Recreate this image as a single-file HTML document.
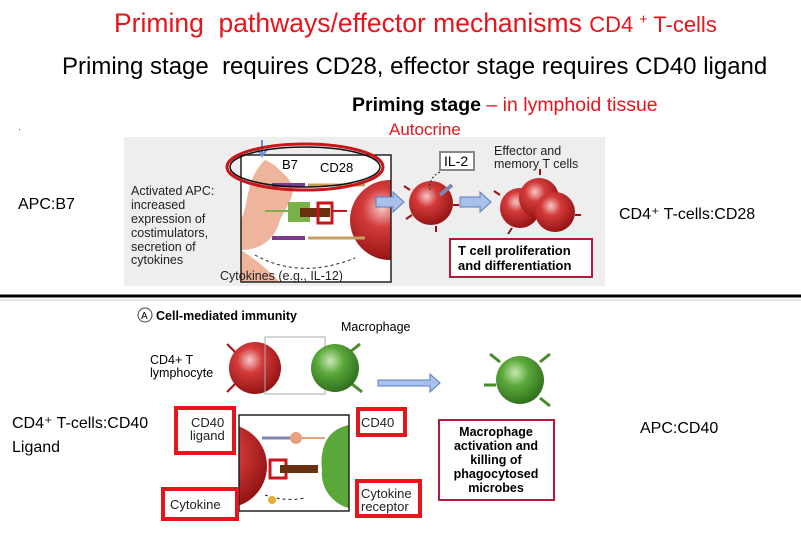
<!DOCTYPE html>
<html><head><style>
body{margin:0;width:801px;height:533px;background:#fff;position:relative;overflow:hidden;font-family:"Liberation Sans",sans-serif}
.t{position:absolute;white-space:nowrap}
</style></head><body>
<div class="t" style="left:114px;top:8px;font-size:26.5px;color:#e8141b">Priming&nbsp; pathways/effector mechanisms <span style="font-size:22px">CD4 <sup style="font-size:14px">+</sup> T-cells</span></div>
<div class="t" style="left:62px;top:53px;font-size:24px;color:#000">Priming stage&nbsp; requires CD28, effector stage requires CD40 ligand</div>
<div class="t" style="left:352px;top:94px;font-size:19.5px"><b>Priming stage</b> <span style="color:#e8141b">– in lymphoid tissue</span></div>
<div class="t" style="left:18px;top:122px;font-size:10px;color:#e8141b">.</div>
<div class="t" style="left:389px;top:120px;font-size:17px;color:#e8141b">Autocrine</div>
<div class="t" style="left:18px;top:196px;font-size:16px">APC:B7</div>
<div class="t" style="left:619px;top:204px;font-size:16px">CD4⁺ T-cells:CD28</div>
<div class="t" style="left:12px;top:412px;font-size:16px;line-height:24px">CD4⁺ T-cells:CD40<br>Ligand</div>
<div class="t" style="left:640px;top:420px;font-size:16px">APC:CD40</div>
<svg width="801" height="533" style="position:absolute;left:0;top:0" font-family="Liberation Sans,sans-serif">
<defs>
<radialGradient id="r" cx="0.4" cy="0.35" r="0.7"><stop offset="0" stop-color="#f6c7c7"/><stop offset="0.35" stop-color="#d43a3a"/><stop offset="1" stop-color="#8e1010"/></radialGradient>
<radialGradient id="g" cx="0.4" cy="0.35" r="0.7"><stop offset="0" stop-color="#c9e8b4"/><stop offset="0.4" stop-color="#5aa83a"/><stop offset="1" stop-color="#2c6a1c"/></radialGradient>
<clipPath id="c1"><rect x="241" y="155" width="150" height="127"/></clipPath>
<clipPath id="c2"><rect x="239" y="415" width="110" height="96"/></clipPath>
</defs>
<rect x="124" y="137" width="481" height="149" fill="#eeeeee"/>
<rect x="241" y="155" width="150" height="127" fill="#fff"/>
<g clip-path="url(#c1)">
<path d="M265 160 C245 180 250 200 241 220 L241 250 C260 250 275 240 280 220 C290 200 300 190 285 175 C275 165 270 162 265 160Z" fill="#eeb59c"/>
<path d="M241 250 Q260 262 280 282 L241 282Z" fill="#eeb59c"/>
<circle cx="390" cy="220" r="40" fill="url(#r)"/>
</g>
<rect x="241" y="155" width="150" height="127" fill="none" stroke="#222" stroke-width="1.5"/>
<path d="M262 140 L262 155 M256 148 L262 156 L268 148" stroke="#6b8fd0" stroke-width="2" fill="none"/>
<line x1="272" y1="185" x2="305" y2="185" stroke="#7a3c8a" stroke-width="4"/>
<line x1="308" y1="185" x2="365" y2="185" stroke="#c2a060" stroke-width="3"/>
<line x1="272" y1="238" x2="305" y2="238" stroke="#7a3c8a" stroke-width="4"/>
<line x1="308" y1="238" x2="365" y2="238" stroke="#c2a060" stroke-width="3"/>
<rect x="288" y="202" width="22" height="20" fill="#7ab24a"/>
<rect x="300" y="208" width="30" height="9" fill="#6a3010"/>
<rect x="318" y="203" width="14" height="20" fill="none" stroke="#c8161c" stroke-width="3"/>
<line x1="265" y1="211" x2="288" y2="211" stroke="#7ab24a" stroke-width="2"/>
<line x1="332" y1="211" x2="347" y2="211" stroke="#c8161c" stroke-width="2"/>
<path d="M255 255 Q300 280 355 258" stroke="#222" stroke-dasharray="3 3" fill="none"/>
<ellipse cx="305" cy="167" rx="78" ry="23" fill="none" stroke="#c8161c" stroke-width="3"/>
<ellipse cx="305" cy="167" rx="75" ry="20" fill="none" stroke="#111" stroke-width="1.5"/>
<text x="282" y="169" font-size="13">B7</text><text x="320" y="172" font-size="13">CD28</text>
<g font-size="12.5" fill="#222"><text x="131" y="195">Activated APC:</text><text x="131" y="209">increased</text><text x="131" y="223">expression of</text><text x="131" y="237">costimulators,</text><text x="131" y="251">secretion of</text><text x="131" y="264">cytokines</text>
<text x="220" y="280">Cytokines (e.g., IL-12)</text>
<text x="494" y="155">Effector and</text><text x="494" y="168">memory T cells</text></g>
<path d="M376 197 L393 197 L393 192 L404 202 L393 212 L393 207 L376 207Z" fill="#a9c0ea" stroke="#5a7cc0"/>
<circle cx="431" cy="203" r="22" fill="url(#r)"/>
<g stroke="#a01010" stroke-width="2" fill="none"><path d="M410 190 l-6 -4 M412 215 l-6 4 M453 205 l6 0 M436 226 l0 6 M500 195 l-6 -4 M575 215 l6 0 M512 228 l-4 6 M540 175 l0 -6"/></g>
<line x1="440" y1="195" x2="452" y2="185" stroke="#8088b0" stroke-width="4"/>
<path d="M460 197 L480 197 L480 192 L491 202 L480 212 L480 207 L460 207Z" fill="#a9c0ea" stroke="#5a7cc0"/>
<rect x="440" y="152" width="34" height="18" fill="#fff" stroke="#888" stroke-width="2"/><text x="444" y="166" font-size="14">IL-2</text>
<path d="M440 172 Q428 178 430 190" stroke="#222" stroke-dasharray="2 2" fill="none"/>
<circle cx="520" cy="208" r="20" fill="url(#r)"/><circle cx="539" cy="198" r="20" fill="url(#r)"/><circle cx="555" cy="212" r="20" fill="url(#r)"/>
<rect x="450" y="239" width="142" height="38" fill="#fff" stroke="#b8163a" stroke-width="2"/>
<text x="458" y="255" font-size="13" font-weight="bold">T cell proliferation</text><text x="458" y="270" font-size="13" font-weight="bold">and differentiation</text>
<line x1="0" y1="296" x2="801" y2="296" stroke="#000" stroke-width="3"/>
<line x1="0" y1="300" x2="801" y2="300" stroke="#ccc" stroke-width="1"/>
<circle cx="145" cy="315" r="7" fill="none" stroke="#444"/><text x="141" y="319" font-size="10">A</text>
<text x="156" y="320" font-size="12.5" font-weight="bold">Cell-mediated immunity</text>
<text x="341" y="331" font-size="12.5">Macrophage</text>
<text x="150" y="364" font-size="12.5">CD4+ T</text><text x="150" y="377" font-size="12.5">lymphocyte</text>
<g stroke="#a01010" stroke-width="2" fill="none"><path d="M235 352 l-8 -8 M235 384 l-8 8"/></g>
<g stroke="#4a8a2a" stroke-width="3" fill="none"><path d="M350 352 l10 -8 M352 384 l10 8 M500 362 l-10 -8 M540 362 l10 -8 M540 398 l10 8 M496 385 l-12 0"/></g>
<circle cx="255" cy="368" r="26" fill="url(#r)"/>
<rect x="265" y="337" width="60" height="57" fill="none" stroke="#aaa"/>
<circle cx="335" cy="368" r="24" fill="url(#g)"/>
<path d="M378 380 L430 380 L430 374 L440 383 L430 392 L430 386 L378 386Z" fill="#a9c0ea" stroke="#5a7cc0"/>
<circle cx="520" cy="380" r="24" fill="url(#g)"/>
<rect x="239" y="415" width="110" height="96" fill="#fff"/>
<g clip-path="url(#c2)">
<circle cx="225" cy="466" r="42" fill="url(#r)"/>
<path d="M349 425 C325 430 320 450 322 470 C320 490 335 505 349 508Z" fill="#5aa83a"/>
</g>
<rect x="239" y="415" width="110" height="96" fill="none" stroke="#222" stroke-width="1.5"/>
<line x1="262" y1="438" x2="295" y2="438" stroke="#7d85b0" stroke-width="3"/>
<circle cx="296" cy="438" r="6" fill="#e8a080"/><line x1="302" y1="438" x2="325" y2="438" stroke="#e8a080" stroke-width="2"/>
<rect x="270" y="460" width="16" height="18" fill="none" stroke="#c8161c" stroke-width="3"/>
<rect x="280" y="465" width="38" height="8" fill="#6a3010"/>
<path d="M265 495 Q285 502 305 498" stroke="#222" stroke-dasharray="3 3" fill="none"/>
<circle cx="272" cy="500" r="4" fill="#e0b030"/>
<g fill="none" stroke="#e8141b" stroke-width="4">
<rect x="176" y="408" width="58" height="45"/><rect x="358" y="409" width="47" height="26"/>
<rect x="163" y="489" width="74" height="30"/><rect x="357" y="481" width="63" height="35"/></g>
<g font-size="13" fill="#222"><text x="191" y="427">CD40</text><text x="190" y="440">ligand</text>
<text x="361" y="427">CD40</text><text x="170" y="509">Cytokine</text>
<text x="361" y="498">Cytokine</text><text x="361" y="511">receptor</text></g>
<rect x="439" y="420" width="115" height="80" fill="#fff" stroke="#b8163a" stroke-width="2"/>
<g font-size="12.5" font-weight="bold" text-anchor="middle"><text x="496" y="436">Macrophage</text><text x="496" y="450">activation and</text><text x="496" y="464">killing of</text><text x="496" y="478">phagocytosed</text><text x="496" y="492">microbes</text></g>
</svg>
</body></html>
